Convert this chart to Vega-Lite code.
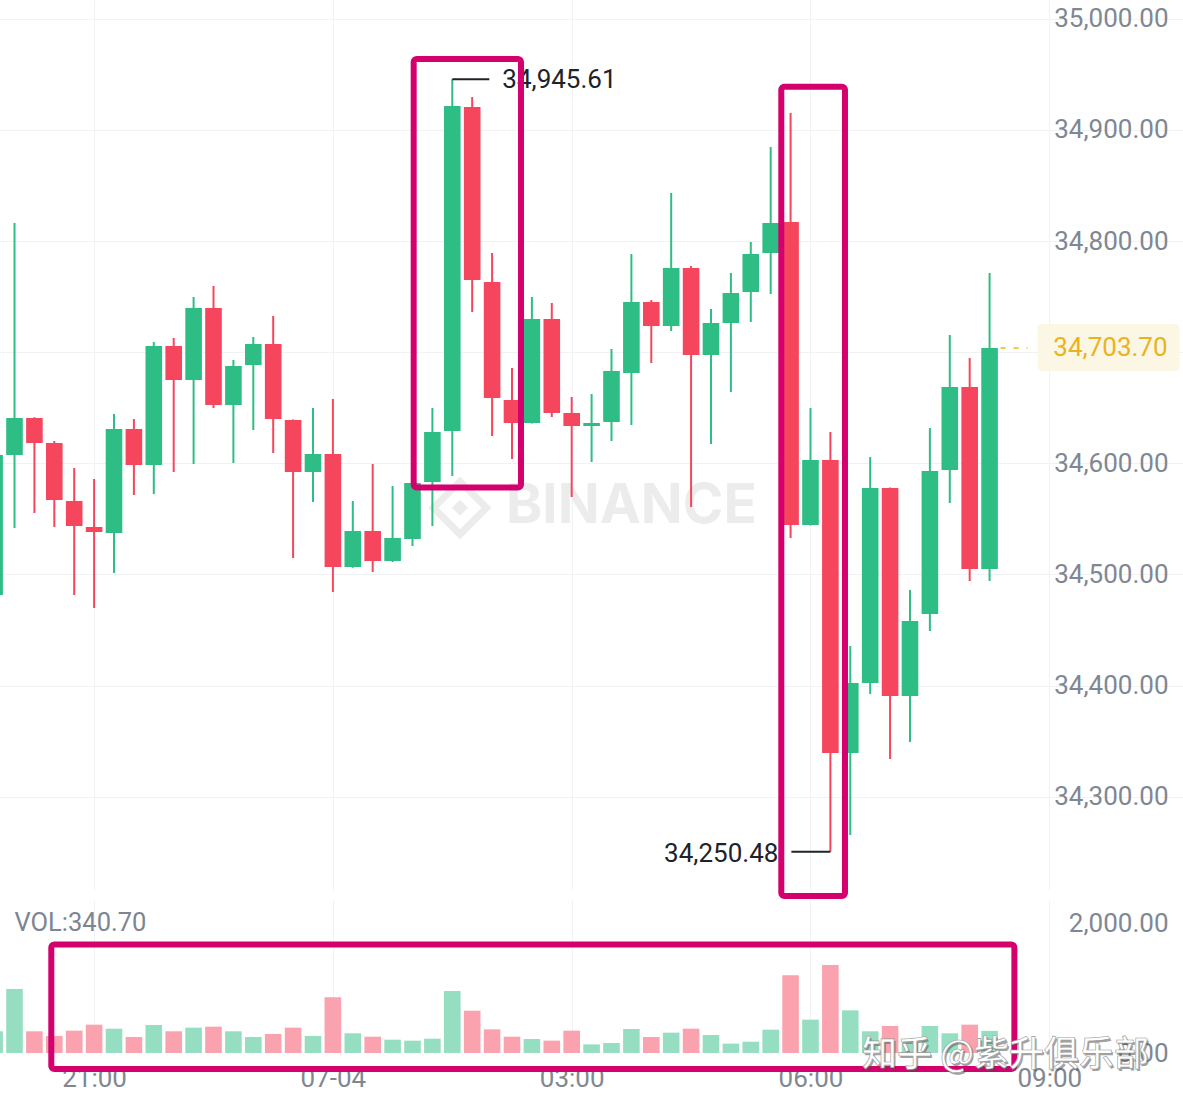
{
  "$schema": "https://vega.github.io/schema/vega-lite/v6.json",
  "padding": 0,
  "background": "white",
  "bounds": "flush",
  "spacing": 10,
  "config": {"view": {"stroke": null}, "font": "Roboto", "scale": {"continuousPadding": 0}},
  "datasets": {
    "candles": [
      {"t":"2021-07-03T19:45:00","open":34481.5,"high":34612.0,"low":34475.0,"close":34607.5,"volume":334},
      {"t":"2021-07-03T20:00:00","open":34607.5,"high":34816.3,"low":34541.8,"close":34640.8,"volume":984},
      {"t":"2021-07-03T20:15:00","open":34640.8,"high":34641.5,"low":34555.3,"close":34618.3,"volume":334},
      {"t":"2021-07-03T20:30:00","open":34618.3,"high":34620.1,"low":34542.7,"close":34567.0,"volume":261},
      {"t":"2021-07-03T20:45:00","open":34566.1,"high":34595.8,"low":34481.5,"close":34543.6,"volume":344},
      {"t":"2021-07-03T21:00:00","open":34542.7,"high":34585.9,"low":34469.8,"close":34538.2,"volume":436},
      {"t":"2021-07-03T21:15:00","open":34537.3,"high":34644.4,"low":34501.3,"close":34630.9,"volume":374},
      {"t":"2021-07-03T21:30:00","open":34630.9,"high":34639.9,"low":34571.5,"close":34598.5,"volume":246},
      {"t":"2021-07-03T21:45:00","open":34598.5,"high":34709.2,"low":34572.4,"close":34705.6,"volume":431},
      {"t":"2021-07-03T22:00:00","open":34705.6,"high":34712.8,"low":34592.2,"close":34675.0,"volume":334},
      {"t":"2021-07-03T22:15:00","open":34675.0,"high":34749.7,"low":34599.4,"close":34739.8,"volume":390},
      {"t":"2021-07-03T22:30:00","open":34739.8,"high":34759.6,"low":34649.8,"close":34652.5,"volume":405},
      {"t":"2021-07-03T22:45:00","open":34652.5,"high":34693.0,"low":34600.3,"close":34687.6,"volume":334},
      {"t":"2021-07-03T23:00:00","open":34688.5,"high":34713.7,"low":34630.0,"close":34707.4,"volume":246},
      {"t":"2021-07-03T23:15:00","open":34707.4,"high":34732.6,"low":34609.3,"close":34639.9,"volume":292},
      {"t":"2021-07-03T23:30:00","open":34639.0,"high":34639.5,"low":34514.8,"close":34592.2,"volume":390},
      {"t":"2021-07-03T23:45:00","open":34592.2,"high":34649.8,"low":34565.2,"close":34608.4,"volume":261},
      {"t":"2021-07-04T00:00:00","open":34608.4,"high":34657.9,"low":34484.2,"close":34506.7,"volume":856},
      {"t":"2021-07-04T00:15:00","open":34506.7,"high":34566.1,"low":34506.0,"close":34539.1,"volume":303},
      {"t":"2021-07-04T00:30:00","open":34539.1,"high":34599.4,"low":34502.2,"close":34512.1,"volume":251},
      {"t":"2021-07-04T00:45:00","open":34512.1,"high":34579.6,"low":34511.2,"close":34532.8,"volume":205},
      {"t":"2021-07-04T01:00:00","open":34531.9,"high":34585.0,"low":34525.6,"close":34582.3,"volume":190},
      {"t":"2021-07-04T01:15:00","open":34583.2,"high":34649.8,"low":34543.6,"close":34628.2,"volume":220},
      {"t":"2021-07-04T01:30:00","open":34629.1,"high":34945.61,"low":34588.6,"close":34921.6,"volume":954},
      {"t":"2021-07-04T01:45:00","open":34920.7,"high":34929.7,"low":34736.2,"close":34765.0,"volume":651},
      {"t":"2021-07-04T02:00:00","open":34763.2,"high":34789.3,"low":34624.6,"close":34658.8,"volume":364},
      {"t":"2021-07-04T02:15:00","open":34657.0,"high":34685.8,"low":34603.9,"close":34636.3,"volume":251},
      {"t":"2021-07-04T02:30:00","open":34636.3,"high":34749.7,"low":34635.8,"close":34729.9,"volume":215},
      {"t":"2021-07-04T02:45:00","open":34729.9,"high":34744.3,"low":34641.7,"close":34645.3,"volume":190},
      {"t":"2021-07-04T03:00:00","open":34645.3,"high":34659.7,"low":34569.7,"close":34633.6,"volume":344},
      {"t":"2021-07-04T03:15:00","open":34633.6,"high":34662.4,"low":34601.2,"close":34636.3,"volume":133},
      {"t":"2021-07-04T03:30:00","open":34637.2,"high":34702.9,"low":34620.1,"close":34683.1,"volume":154},
      {"t":"2021-07-04T03:45:00","open":34681.3,"high":34788.4,"low":34634.5,"close":34745.2,"volume":369},
      {"t":"2021-07-04T04:00:00","open":34745.2,"high":34747.0,"low":34690.3,"close":34723.6,"volume":246},
      {"t":"2021-07-04T04:15:00","open":34723.6,"high":34843.3,"low":34719.1,"close":34775.8,"volume":313},
      {"t":"2021-07-04T04:30:00","open":34775.8,"high":34777.6,"low":34560.7,"close":34697.5,"volume":374},
      {"t":"2021-07-04T04:45:00","open":34697.5,"high":34738.9,"low":34617.4,"close":34726.3,"volume":277},
      {"t":"2021-07-04T05:00:00","open":34726.3,"high":34771.3,"low":34664.2,"close":34753.3,"volume":144},
      {"t":"2021-07-04T05:15:00","open":34754.2,"high":34799.2,"low":34727.2,"close":34788.4,"volume":174},
      {"t":"2021-07-04T05:30:00","open":34789.3,"high":34884.7,"low":34752.4,"close":34816.3,"volume":359},
      {"t":"2021-07-04T05:45:00","open":34817.2,"high":34915.3,"low":34532.8,"close":34544.5,"volume":1195},
      {"t":"2021-07-04T06:00:00","open":34544.5,"high":34649.8,"low":34544.0,"close":34603.0,"volume":513},
      {"t":"2021-07-04T06:15:00","open":34603.0,"high":34628.2,"low":34250.48,"close":34339.3,"volume":1354},
      {"t":"2021-07-04T06:30:00","open":34339.3,"high":34435.6,"low":34265.5,"close":34402.3,"volume":656},
      {"t":"2021-07-04T06:45:00","open":34402.3,"high":34605.7,"low":34392.4,"close":34577.8,"volume":334},
      {"t":"2021-07-04T07:00:00","open":34577.8,"high":34578.3,"low":34333.9,"close":34390.6,"volume":415},
      {"t":"2021-07-04T07:15:00","open":34390.6,"high":34486.0,"low":34349.2,"close":34458.1,"volume":160},
      {"t":"2021-07-04T07:30:00","open":34464.4,"high":34631.8,"low":34449.1,"close":34593.1,"volume":415},
      {"t":"2021-07-04T07:45:00","open":34594.0,"high":34715.5,"low":34564.3,"close":34668.7,"volume":303},
      {"t":"2021-07-04T08:00:00","open":34668.7,"high":34694.8,"low":34494.1,"close":34504.9,"volume":436},
      {"t":"2021-07-04T08:15:00","open":34504.9,"high":34771.3,"low":34494.1,"close":34703.7,"volume":340.7}
    ],
    "hl": [
      {"t":"2021-07-04T01:30:00","price":34945.61,"kind":"high"},
      {"t":"2021-07-04T06:15:00","price":34250.48,"kind":"low"}
    ],
    "last": [
      {"t":"2021-07-04T08:15:00","price":34703.7}
    ],
    "boxes": [
      {"t":"2021-07-04T01:00:54","t2":"2021-07-04T02:21:47","p1":34963.9,"p2":34578.3},
      {"t":"2021-07-04T05:38:00","t2":"2021-07-04T06:26:00","p1":34939.0,"p2":34210.6}
    ],
    "vbox": [
      {"t":"2021-07-03T20:27:44","t2":"2021-07-04T08:33:42","v1":1669,"v2":-246}
    ],
    "logo": [
      {"t":"2021-07-04T01:35:48","price":34560}
    ],
    "wm": [
      {"t":"2021-07-04T03:45:00","price":34562,"label":"BINANCE"}
    ],
    "vlabel": [
      {"t":"2021-07-03T20:00:00","v":2000,"label":"VOL:340.70"}
    ],
    "credit": [
      {"t":"2021-07-04T08:27:00","v":-35,"label":"知乎 @紫升俱乐部"}
    ]
  },
  "vconcat": [
    {
      "width": 1183,
      "height": 890,
      "encoding": {
        "x": {
          "field": "t", "type": "temporal", "title": null,
          "scale": {"domain": [
            {"year":2021,"month":7,"date":3,"hours":19,"minutes":49,"seconds":4},
            {"year":2021,"month":7,"date":4,"hours":10,"minutes":40,"seconds":48}
          ], "padding": 0},
          "axis": {
            "labels": false, "ticks": false, "domain": false, "grid": true, "gridColor": "#f1f2f4", "title": null,
            "values": [
              {"year":2021,"month":7,"date":3,"hours":21},
              {"year":2021,"month":7,"date":4,"hours":0},
              {"year":2021,"month":7,"date":4,"hours":3},
              {"year":2021,"month":7,"date":4,"hours":6},
              {"year":2021,"month":7,"date":4,"hours":9}
            ]
          }
        }
      },
      "layer": [
        {
          "data": {"name": "logo"},
          "mark": {"type": "point", "shape": "diamond", "filled": false, "size": 2800, "strokeWidth": 7, "color": "#ececec", "opacity": 1},
          "encoding": {
            "y": {"field": "price", "type": "quantitative", "title": null,
              "scale": {"domain": [34216.04, 35016.98], "nice": false, "zero": false, "padding": 0},
              "axis": {
                "orient": "right", "values": [34300, 34400, 34500, 34600, 34700, 34800, 34900, 35000],
                "labelExpr": "datum.value == 34700 ? '' : format(datum.value, ',.2f')",
                "grid": true, "gridColor": "#f1f2f4", "ticks": false, "tickSize": 0, "domain": false,
                "labelAlign": "right", "labelBaseline": "middle", "labelPadding": -15,
                "labelFontSize": 26, "labelFont": "Roboto", "labelColor": "#7f8793", "title": null
              }
            }
          }
        },
        {
          "data": {"name": "logo"},
          "mark": {"type": "point", "shape": "diamond", "filled": true, "size": 260, "color": "#ececec", "opacity": 1},
          "encoding": {
            "y": {"field": "price", "type": "quantitative", "title": null, "scale": {"domain": [34216.04, 35016.98], "nice": false, "zero": false, "padding": 0}}
          }
        },
        {
          "data": {"name": "wm"},
          "mark": {"type": "text", "font": "Inter", "fontWeight": "bold", "fontSize": 55, "color": "#ececec", "align": "center", "baseline": "middle"},
          "encoding": {
            "y": {"field": "price", "type": "quantitative", "title": null, "scale": {"domain": [34216.04, 35016.98], "nice": false, "zero": false, "padding": 0}},
            "text": {"field": "label", "type": "nominal"}
          }
        },
        {
          "data": {"name": "candles"},
          "mark": {"type": "rule", "strokeWidth": 2, "clip": true},
          "encoding": {
            "y": {"field": "low", "type": "quantitative", "title": null, "scale": {"domain": [34216.04, 35016.98], "nice": false, "zero": false, "padding": 0}},
            "y2": {"field": "high"},
            "color": {"condition": {"test": "datum.close >= datum.open", "value": "#2ebd85"}, "value": "#f6465d"}
          }
        },
        {
          "data": {"name": "candles"},
          "mark": {"type": "bar", "size": 16.6, "clip": true},
          "encoding": {
            "y": {"field": "open", "type": "quantitative", "title": null, "scale": {"domain": [34216.04, 35016.98], "nice": false, "zero": false, "padding": 0}},
            "y2": {"field": "close"},
            "color": {"condition": {"test": "datum.close >= datum.open", "value": "#2ebd85"}, "value": "#f6465d"}
          }
        },
        {
          "data": {"name": "hl"},
          "transform": [{"filter": "datum.kind == 'high'"}],
          "mark": {"type": "rule", "x2Offset": 37, "strokeWidth": 2, "color": "#1e2329"},
          "encoding": {
            "x2": {"field": "t"},
            "y": {"field": "price", "type": "quantitative", "title": null, "scale": {"domain": [34216.04, 35016.98], "nice": false, "zero": false, "padding": 0}}
          }
        },
        {
          "data": {"name": "hl"},
          "transform": [{"filter": "datum.kind == 'high'"}],
          "mark": {"type": "text", "align": "left", "baseline": "middle", "dx": 50, "dy": 1, "fontSize": 26, "font": "Roboto", "color": "#1e2329"},
          "encoding": {
            "y": {"field": "price", "type": "quantitative", "title": null, "scale": {"domain": [34216.04, 35016.98], "nice": false, "zero": false, "padding": 0}},
            "text": {"field": "price", "type": "quantitative", "format": ",.2f"}
          }
        },
        {
          "data": {"name": "hl"},
          "transform": [{"filter": "datum.kind == 'low'"}],
          "mark": {"type": "rule", "x2Offset": -39, "strokeWidth": 2, "color": "#1e2329"},
          "encoding": {
            "x2": {"field": "t"},
            "y": {"field": "price", "type": "quantitative", "title": null, "scale": {"domain": [34216.04, 35016.98], "nice": false, "zero": false, "padding": 0}}
          }
        },
        {
          "data": {"name": "hl"},
          "transform": [{"filter": "datum.kind == 'low'"}],
          "mark": {"type": "text", "align": "right", "baseline": "middle", "dx": -52, "dy": 2, "fontSize": 26, "font": "Roboto", "color": "#1e2329"},
          "encoding": {
            "y": {"field": "price", "type": "quantitative", "title": null, "scale": {"domain": [34216.04, 35016.98], "nice": false, "zero": false, "padding": 0}},
            "text": {"field": "price", "type": "quantitative", "format": ",.2f"}
          }
        },
        {
          "data": {"name": "last"},
          "mark": {"type": "rule", "xOffset": 11, "x2Offset": 38, "strokeDash": [5, 8], "strokeWidth": 1.5, "color": "#f0b90b"},
          "encoding": {
            "x2": {"field": "t"},
            "y": {"field": "price", "type": "quantitative", "title": null, "scale": {"domain": [34216.04, 35016.98], "nice": false, "zero": false, "padding": 0}}
          }
        },
        {
          "data": {"name": "last"},
          "mark": {"type": "rect", "xOffset": 48, "x2Offset": 190, "yOffset": -24, "y2Offset": 23, "color": "#fcf6e4", "cornerRadius": 4},
          "encoding": {
            "x2": {"field": "t"},
            "y": {"field": "price", "type": "quantitative", "title": null, "scale": {"domain": [34216.04, 35016.98], "nice": false, "zero": false, "padding": 0}},
            "y2": {"field": "price"}
          }
        },
        {
          "data": {"name": "last"},
          "mark": {"type": "text", "align": "right", "baseline": "middle", "dx": 178, "fontSize": 26, "font": "Roboto", "color": "#e9b31f"},
          "encoding": {
            "y": {"field": "price", "type": "quantitative", "title": null, "scale": {"domain": [34216.04, 35016.98], "nice": false, "zero": false, "padding": 0}},
            "text": {"field": "price", "type": "quantitative", "format": ",.2f"}
          }
        },
        {
          "data": {"name": "boxes"},
          "mark": {"type": "rect", "fill": "transparent", "stroke": "#d3006e", "strokeWidth": 6, "cornerRadius": 3},
          "encoding": {
            "x2": {"field": "t2"},
            "y": {"field": "p1", "type": "quantitative", "title": null, "scale": {"domain": [34216.04, 35016.98], "nice": false, "zero": false, "padding": 0}},
            "y2": {"field": "p2"}
          }
        }
      ]
    },
    {
      "width": 1183,
      "height": 153,
      "encoding": {
        "x": {
          "field": "t", "type": "temporal", "title": null,
          "scale": {"domain": [
            {"year":2021,"month":7,"date":3,"hours":19,"minutes":49,"seconds":4},
            {"year":2021,"month":7,"date":4,"hours":10,"minutes":40,"seconds":48}
          ], "padding": 0},
          "axis": {
            "ticks": false, "tickSize": 0, "domain": false, "grid": true, "gridColor": "#f1f2f4", "title": null,
            "labelFlush": false, "labelOverlap": false, "labelPadding": 25, "labelBaseline": "middle",
            "labelFontSize": 26, "labelFont": "Roboto", "labelColor": "#7f8793",
            "labelExpr": "hours(datum.value) == 0 ? timeFormat(datum.value, '%m-%d') : timeFormat(datum.value, '%H:%M')",
            "values": [
              {"year":2021,"month":7,"date":3,"hours":21},
              {"year":2021,"month":7,"date":4,"hours":0},
              {"year":2021,"month":7,"date":4,"hours":3},
              {"year":2021,"month":7,"date":4,"hours":6},
              {"year":2021,"month":7,"date":4,"hours":9}
            ]
          }
        }
      },
      "layer": [
        {
          "data": {"name": "candles"},
          "mark": {"type": "bar", "size": 16.6, "clip": true},
          "encoding": {
            "y": {"field": "volume", "type": "quantitative", "title": null,
              "scale": {"domain": [0, 2354], "nice": false, "padding": 0},
              "axis": {
                "orient": "right", "values": [0, 2000], "format": ",.2f",
                "grid": false, "ticks": false, "tickSize": 0, "domain": false,
                "labelAlign": "right", "labelBaseline": "middle", "labelPadding": -15,
                "labelFontSize": 26, "labelFont": "Roboto", "labelColor": "#7f8793", "title": null
              }
            },
            "color": {"condition": {"test": "datum.close >= datum.open", "value": "#96dec2"}, "value": "#faa2ae"}
          }
        },
        {
          "data": {"name": "vlabel"},
          "mark": {"type": "text", "align": "left", "baseline": "middle", "fontSize": 25.5, "font": "Roboto", "color": "#7d8591"},
          "encoding": {
            "y": {"field": "v", "type": "quantitative", "title": null, "scale": {"domain": [0, 2354], "nice": false, "padding": 0}},
            "text": {"field": "label", "type": "nominal"}
          }
        },
        {
          "data": {"name": "vbox"},
          "mark": {"type": "rect", "fill": "transparent", "stroke": "#d3006e", "strokeWidth": 6, "cornerRadius": 3},
          "encoding": {
            "x2": {"field": "t2"},
            "y": {"field": "v1", "type": "quantitative", "title": null, "scale": {"domain": [0, 2354], "nice": false, "padding": 0}},
            "y2": {"field": "v2"}
          }
        },
        {
          "data": {"name": "credit"},
          "mark": {"type": "text", "align": "center", "baseline": "middle", "dx": 1.5, "dy": 1.5, "fontSize": 35, "font": "Noto Sans CJK SC", "fontWeight": 500, "color": "#555555", "opacity": 0.55},
          "encoding": {
            "y": {"field": "v", "type": "quantitative", "title": null, "scale": {"domain": [0, 2354], "nice": false, "padding": 0}},
            "text": {"field": "label", "type": "nominal"}
          }
        },
        {
          "data": {"name": "credit"},
          "mark": {"type": "text", "align": "center", "baseline": "middle", "fontSize": 35, "font": "Noto Sans CJK SC", "fontWeight": 500, "color": "#ffffff", "stroke": "#9a9a9a", "strokeWidth": 0.6},
          "encoding": {
            "y": {"field": "v", "type": "quantitative", "title": null, "scale": {"domain": [0, 2354], "nice": false, "padding": 0}},
            "text": {"field": "label", "type": "nominal"}
          }
        }
      ]
    }
  ]
}
